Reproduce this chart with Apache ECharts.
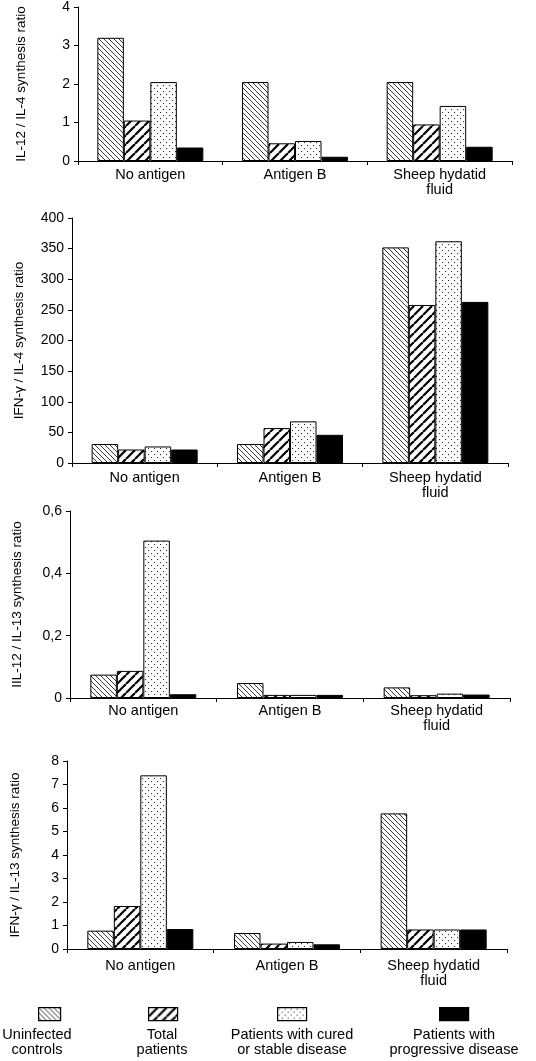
<!DOCTYPE html>
<html><head><meta charset="utf-8">
<script src="https://cdn.jsdelivr.net/npm/echarts@6/dist/echarts.min.js"></script>
<style>html,body{margin:0;padding:0;background:#fff}#c{width:536px;height:1061px}</style>
</head><body><div id="c"></div>
<script>
// ---- data ----
const categories = ['No antigen', 'Antigen B', 'Sheep hydatid\nfluid'];
const groupNames = ['Uninfected controls', 'Total patients', 'Patients with cured or stable disease', 'Patients with progressive disease'];
const legendLabels = ['Uninfected\ncontrols', 'Total\npatients', 'Patients with cured\nor stable disease', 'Patients with\nprogressive disease'];
const axisTitles = ['IL-12 / IL-4 synthesis ratio', 'IFN-\u03b3 / IL-4 synthesis ratio', 'IIL-12 / IL-13 synthesis ratio', 'IFN-\u03b3 / IL-13 synthesis ratio'];
const yMaxes = [4, 400, 0.6, 8];
const yIntervals = [1, 50, 0.2, 1];

const il12Il4Uninfected = [3.2, 2.05, 2.05];
const il12Il4Total = [1.05, 0.46, 0.95];
const il12Il4Cured = [2.05, 0.52, 1.43];
const il12Il4Progressive = [0.35, 0.11, 0.37];

const ifnIl4Uninfected = [31, 31, 352];
const ifnIl4Total = [22, 57, 258];
const ifnIl4Cured = [27, 68, 362];
const ifnIl4Progressive = [22, 46, 263];

const il12Il13Uninfected = [0.075, 0.048, 0.034];
const il12Il13Total = [0.087, 0.01, 0.009];
const il12Il13Cured = [0.505, 0.01, 0.014];
const il12Il13Progressive = [0.012, 0.01, 0.011];

const ifnIl13Uninfected = [0.78, 0.68, 5.77];
const ifnIl13Total = [1.83, 0.23, 0.83];
const ifnIl13Cured = [7.39, 0.3, 0.83];
const ifnIl13Progressive = [0.85, 0.2, 0.83];

const panels = [
  [il12Il4Uninfected, il12Il4Total, il12Il4Cured, il12Il4Progressive],
  [ifnIl4Uninfected, ifnIl4Total, ifnIl4Cured, ifnIl4Progressive],
  [il12Il13Uninfected, il12Il13Total, il12Il13Cured, il12Il13Progressive],
  [ifnIl13Uninfected, ifnIl13Total, ifnIl13Cured, ifnIl13Progressive]
];

// ---- patterns ----
function tile(w, h, draw) {
  const c = document.createElement('canvas');
  c.width = w; c.height = h;
  const ctx = c.getContext('2d');
  ctx.fillStyle = '#fff'; ctx.fillRect(0, 0, w, h);
  draw(ctx, w, h);
  return { image: c, repeat: 'repeat' };
}
const patBack = tile(5, 5, (ctx, s) => {
  ctx.strokeStyle = '#222'; ctx.lineWidth = 0.9;
  for (let k = -1; k <= 1; k++) { ctx.beginPath(); ctx.moveTo(k * s, 0); ctx.lineTo(k * s + s, s); ctx.stroke(); }
});
const patFwd = tile(9, 9, (ctx, s) => {
  ctx.strokeStyle = '#000'; ctx.lineWidth = 2.2;
  for (let k = -1; k <= 2; k++) { ctx.beginPath(); ctx.moveTo(k * s, s); ctx.lineTo(k * s + s, 0); ctx.stroke(); }
});
const patDots = tile(6, 6, (ctx) => {
  ctx.fillStyle = '#333';
  ctx.fillRect(1, 1, 1.1, 1.1); ctx.fillRect(4, 4, 1.1, 1.1);
});
const fills = [patBack, patFwd, patDots, '#000'];

// ---- layout ----
const grids = [
  { left: 78, top: 5, width: 434, height: 156 },
  { left: 72, top: 218, width: 436, height: 245 },
  { left: 70, top: 511, width: 440, height: 187 },
  { left: 67, top: 761, width: 440, height: 188 }
];
const nameGaps = [50, 46, 46, 45];
const xLabelMargins = [6, 7, 5, 9];
const FONT = "'Liberation Sans', Arial, Helvetica, sans-serif";

const xAxis = [], yAxis = [], series = [];
grids.forEach((g, i) => {
  xAxis.push({
    type: 'category', gridIndex: i, data: categories,
    axisLine: { lineStyle: { color: '#000', width: 1 } },
    axisTick: { show: true, length: 4, lineStyle: { color: '#000' } },
    axisLabel: { interval: 0, margin: xLabelMargins[i], color: '#000', fontSize: 14.5, lineHeight: 15, fontFamily: FONT }
  });
  yAxis.push({
    type: 'value', gridIndex: i, min: 0, max: yMaxes[i], interval: yIntervals[i],
    name: axisTitles[i], nameLocation: 'middle', nameGap: nameGaps[i],
    nameTextStyle: { color: '#000', fontSize: 13.5, fontFamily: FONT },
    axisLine: { show: true, lineStyle: { color: '#000', width: 1 } },
    axisTick: { show: true, length: 4, lineStyle: { color: '#000' } },
    splitLine: { show: false },
    axisLabel: {
      margin: 8, color: '#000', fontSize: 14, fontFamily: FONT,
      formatter: v => i === 2 ? String(+(+v).toFixed(1)).replace('.', ',') : String(v)
    }
  });
  panels[i].forEach((vals, s) => {
    series.push({
      type: 'bar', name: groupNames[s], xAxisIndex: i, yAxisIndex: i,
      data: vals, barWidth: 26.5, barGap: '0%',
      itemStyle: { color: fills[s], borderColor: '#000', borderWidth: 1 },
      emphasis: { disabled: true }, animation: false
    });
  });
});

// ---- legend (graphic, built from names) ----
const swatches = [
  { x: 38, w: 22, tx: 37 },
  { x: 148, w: 29, tx: 162 },
  { x: 277, w: 29, tx: 292 },
  { x: 439, w: 29, tx: 454 }
];
const graphic = [];
legendLabels.forEach((lab, k) => {
  const sw = swatches[k];
  graphic.push({
    type: 'rect', left: sw.x, top: 1007,
    shape: { width: sw.w, height: 13 },
    style: { fill: fills[k], stroke: '#000', lineWidth: 1.2 }
  });
  graphic.push({
    type: 'text', x: sw.tx, y: 1027,
    style: { text: lab, fill: '#000', font: '14.5px ' + FONT, textAlign: 'center', textVerticalAlign: 'top', lineHeight: 15 }
  });
});

const chart = echarts.init(document.getElementById('c'), null, { renderer: 'canvas' });
chart.setOption({
  backgroundColor: '#fff',
  animation: false,
  grid: grids,
  xAxis, yAxis, series, graphic
});
</script>
</body></html>
